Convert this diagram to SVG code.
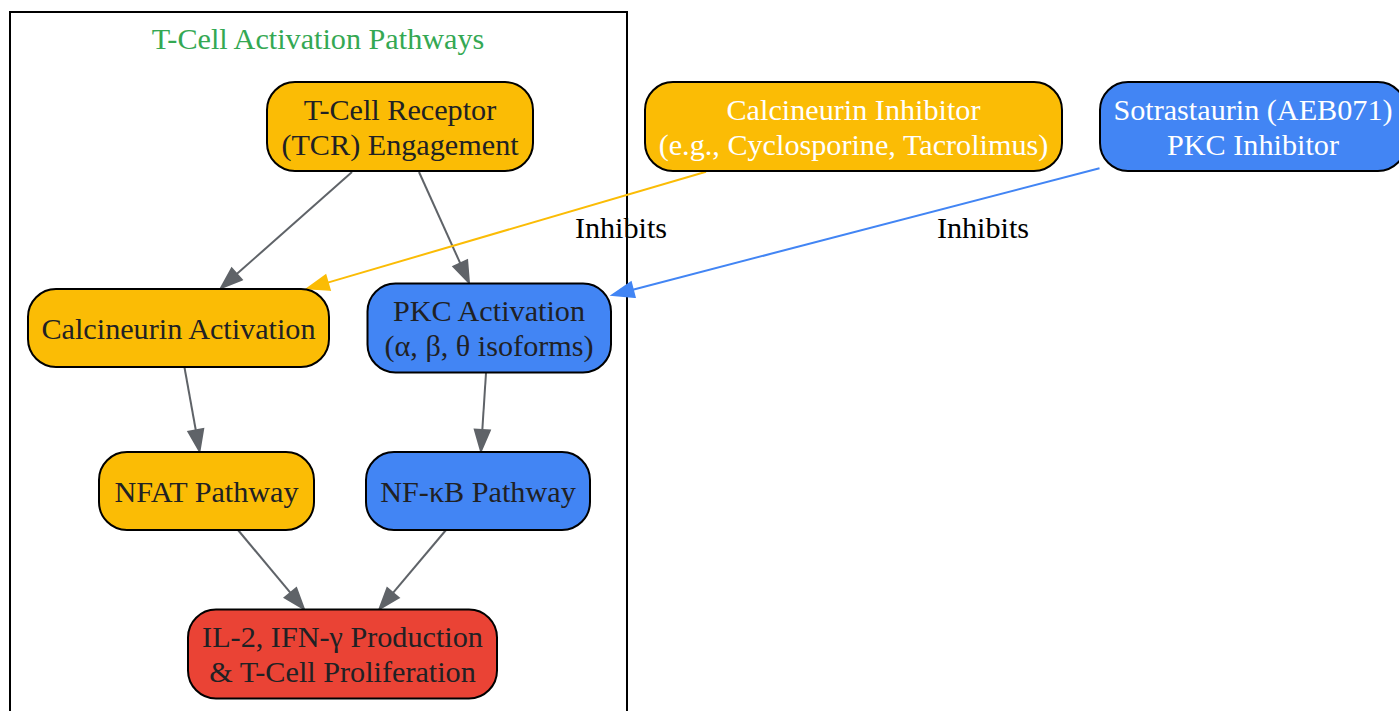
<svg xmlns="http://www.w3.org/2000/svg" width="1399" height="711" viewBox="0 0 1399 711">
<style>
  text { font-family: "Liberation Serif", "Times New Roman", serif; font-size: 30.2px; text-anchor: middle; }
  .node rect { stroke: #000000; stroke-width: 2; }
  .yellow { fill: #FBBC05; }
  .blue { fill: #4285F4; }
  .red { fill: #EA4335; }
  .dark { fill: #202124; }
  .white { fill: #FFFFFF; }
  .edge { fill: none; stroke-width: 2; }
  .gray { stroke: #5F6368; }
  .ey { stroke: #FBBC05; }
  .eb { stroke: #4285F4; }
  .lbl { fill: #000000; }
</style>
<defs>
  <marker id="ag" markerUnits="userSpaceOnUse" markerWidth="24" markerHeight="18" refX="1" refY="8.5" orient="auto" overflow="visible">
    <path d="M1,1 L22,8.5 L1,16 z" fill="#5F6368" stroke="#5F6368" stroke-width="2"/>
  </marker>
  <marker id="ay" markerUnits="userSpaceOnUse" markerWidth="24" markerHeight="18" refX="1" refY="8.5" orient="auto" overflow="visible">
    <path d="M1,1 L22,8.5 L1,16 z" fill="#FBBC05" stroke="#FBBC05" stroke-width="2"/>
  </marker>
  <marker id="ab" markerUnits="userSpaceOnUse" markerWidth="24" markerHeight="18" refX="1" refY="8.5" orient="auto" overflow="visible">
    <path d="M1,1 L22,8.5 L1,16 z" fill="#4285F4" stroke="#4285F4" stroke-width="2"/>
  </marker>
</defs>
<rect width="1399" height="711" fill="#FFFFFF"/>
<g id="cluster">
  <rect x="10" y="12" width="617" height="720" fill="none" stroke="#000000" stroke-width="2"/>
  <text x="318" y="49" fill="#34A853">T-Cell Activation Pathways</text>
</g>
<g id="connectors">
  <line class="edge gray" x1="352" y1="172" x2="236.7" y2="274.1" marker-end="url(#ag)"/>
  <line class="edge gray" x1="419" y1="172" x2="460.3" y2="263.4" marker-end="url(#ag)"/>
  <line class="edge gray" x1="184.5" y1="367.5" x2="195.8" y2="430.3" marker-end="url(#ag)"/>
  <line class="edge gray" x1="486" y1="373" x2="482.3" y2="430" marker-end="url(#ag)"/>
  <line class="edge gray" x1="238" y1="530" x2="290.5" y2="592.9" marker-end="url(#ag)"/>
  <line class="edge gray" x1="446" y1="530" x2="393" y2="592.9" marker-end="url(#ag)"/>
  <line class="edge ey" x1="706" y1="171.7" x2="327.7" y2="282.6" marker-end="url(#ay)"/>
  <line class="edge eb" x1="1099.5" y1="168.3" x2="632.8" y2="289.7" marker-end="url(#ab)"/>
  <text class="lbl" x="621" y="237.5">Inhibits</text>
  <text class="lbl" x="983" y="237.5">Inhibits</text>
</g>
<g id="tcr" class="node">
  <rect class="yellow" x="267" y="82" width="266" height="89" rx="28"/>
  <text class="dark" x="400" y="119.5">T-Cell Receptor</text>
  <text class="dark" x="400" y="155">(TCR) Engagement</text>
</g>
<g id="calcineurin_inhibitor" class="node">
  <rect class="yellow" x="645" y="82" width="417" height="89" rx="28"/>
  <text class="white" x="853.5" y="120">Calcineurin Inhibitor</text>
  <text class="white" x="853.5" y="155">(e.g., Cyclosporine, Tacrolimus)</text>
</g>
<g id="sotrastaurin" class="node">
  <rect class="blue" x="1100" y="82" width="306" height="89" rx="28"/>
  <text class="white" x="1253" y="120">Sotrastaurin (AEB071)</text>
  <text class="white" x="1253" y="155">PKC Inhibitor</text>
</g>
<g id="calcineurin_activation" class="node">
  <rect class="yellow" x="28" y="289" width="301" height="78" rx="28"/>
  <text class="dark" x="178.5" y="338.5">Calcineurin Activation</text>
</g>
<g id="pkc_activation" class="node">
  <rect class="blue" x="367.5" y="283.5" width="243.5" height="89" rx="28"/>
  <text class="dark" x="489" y="320.5">PKC Activation</text>
  <text class="dark" x="489" y="356">(α, β, θ isoforms)</text>
</g>
<g id="nfat" class="node">
  <rect class="yellow" x="99" y="452" width="215" height="78" rx="28"/>
  <text class="dark" x="206.5" y="501.5">NFAT Pathway</text>
</g>
<g id="nfkb" class="node">
  <rect class="blue" x="366" y="452" width="224" height="78" rx="28"/>
  <text class="dark" x="478" y="501.5">NF-κB Pathway</text>
</g>
<g id="il2" class="node">
  <rect class="red" x="188" y="609.5" width="309" height="89" rx="28"/>
  <text class="dark" x="342.5" y="646.5">IL-2, IFN-γ Production</text>
  <text class="dark" x="342.5" y="682">&amp; T-Cell Proliferation</text>
</g>
</svg>
